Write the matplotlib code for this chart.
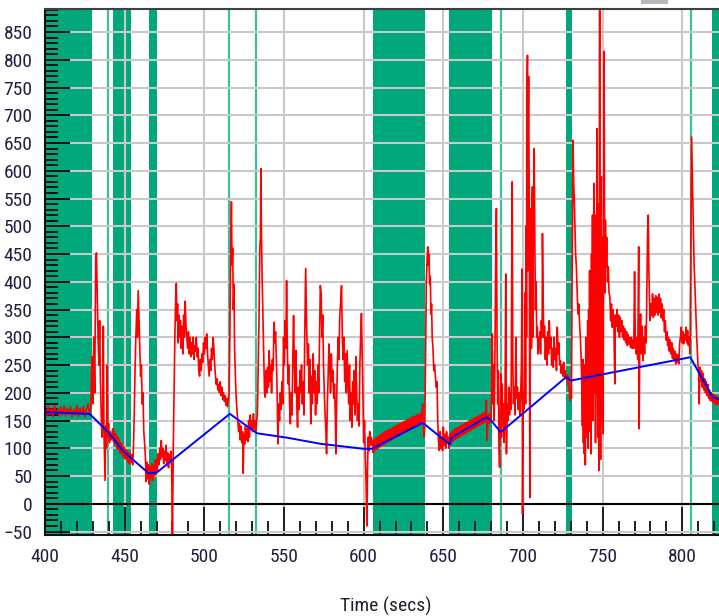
import matplotlib
matplotlib.use('Agg')
import matplotlib.pyplot as plt
from matplotlib.ticker import MultipleLocator
from matplotlib.patches import Rectangle
from matplotlib import font_manager
from matplotlib.font_manager import FontProperties

# ---------------- font choice (narrow sans like the reference) ----------------
def pick_condensed():
    prefs = ['liberation sans narrow', 'arial narrow', 'roboto condensed', 'open sans condensed',
             'noto sans condensed', 'dejavu sans condensed', 'liberation', 'roboto', 'open sans',
             'noto sans', 'lato', 'inter', 'dejavu sans']
    cands = []
    for f in font_manager.fontManager.ttflist:
        nm = f.name.lower()
        fn = f.fname.lower()
        narrow = ('narrow' in nm or 'condensed' in nm or 'narrow' in fn or 'condensed' in fn
                  or str(f.stretch) in ('condensed', 'semi-condensed'))
        if not narrow or 'mono' in nm or 'serif' in nm or 'cjk' in nm:
            continue
        if f.style != 'normal':
            continue
        w = f.weight
        if isinstance(w, str):
            w = {'normal': 400, 'regular': 400, 'book': 400}.get(w, 700)
        if w != 400:
            continue
        if 'bold' in fn or 'light' in fn or 'medium' in fn or 'thin' in fn or 'black' in fn \
                or 'italic' in fn or 'semi' in fn or 'extra' in fn:
            continue
        key = len(prefs)
        for i, p in enumerate(prefs):
            if p in nm or p.replace(' ', '') in fn:
                key = i
                break
        cands.append((key, f.fname))
    if cands:
        cands.sort()
        return FontProperties(fname=cands[0][1]), 14
    return FontProperties(family=['Liberation Sans', 'DejaVu Sans']), 12.5

font_prop, font_size = pick_condensed()

# ---------------- data ----------------
green_spans = [(400, 429.3), (442.5, 454.1), (465.0, 470.5), (605.6, 638.6),
               (653.4, 680.6), (726.8, 730.8), (818.9, 823)]
green_marks = [439.5, 515.4, 532.4, 686.1, 805.7]

blue_time = [400, 428, 440, 449, 455, 465, 470, 516, 533, 552, 573, 600, 605,
             637, 654, 655, 677, 680, 686, 727, 730, 805, 819, 823]
blue_value = [165, 162, 128, 95, 80, 55, 56, 162, 127, 119, 108, 99, 99,
              146, 107, 119, 156, 150, 129, 228, 222, 264, 192, 188]

red_samples = [
    (400, 170), (401, 158), (402, 176), (403, 160), (404, 172), (405, 157), (406, 178), (407, 162),
    (408, 170), (409, 158), (410, 174), (411, 160), (412, 176), (413, 158), (414, 172), (415, 161),
    (416, 175), (417, 157), (418, 170), (419, 160), (420, 177), (421, 158), (422, 172), (423, 162),
    (424, 175), (425, 157), (426, 170), (427, 180), (428, 160),
    (428.8, 175), (429.5, 265), (430, 180), (430.6, 300), (431.2, 200), (431.8, 440), (432.3, 452),
    (432.8, 380), (433.3, 300), (433.8, 250), (434.3, 330), (434.8, 220), (435.3, 160), (435.8, 120),
    (436.2, 150), (436.6, 320), (437.0, 130), (437.7, 42), (438.1, 140), (438.6, 100), (439.0, 250),
    (439.4, 120), (439.9, 145), (440.4, 110), (440.9, 130), (441.4, 115), (442, 125),
    (442.5, 135), (443, 112), (443.5, 130), (444, 108), (444.5, 125), (445, 100), (445.5, 120),
    (446, 98), (446.5, 115), (447, 92), (447.5, 110), (448, 90), (448.5, 105), (449, 85),
    (449.5, 102), (450, 82), (450.5, 98), (451, 80), (451.5, 95), (452, 75), (452.5, 92),
    (453, 72), (453.5, 90), (454, 75), (454.5, 88), (455, 70),
    (455.5, 100), (456, 160), (456.5, 240), (457, 300), (457.6, 350), (458, 300), (458.5, 384),
    (459, 330), (459.5, 280), (460, 230), (460.5, 250), (461, 180), (461.5, 200), (462, 130),
    (462.5, 110), (463, 85),
    (463.5, 40), (464, 75), (464.5, 45), (465, 70), (465.5, 35), (466, 65), (466.5, 48), (467, 72),
    (467.5, 42), (468, 68), (468.5, 50), (469, 78), (469.5, 52), (470, 80), (470.5, 60), (471, 90),
    (471.5, 70), (472, 100), (472.5, 80), (473, 114), (473.5, 85), (474, 100), (474.5, 72),
    (475, 95), (475.5, 78), (476, 105), (476.5, 70), (477, 92), (477.5, 65), (478, 88),
    (478.5, 75), (479, 95), (479.5, 60), (480, -55), (480.5, 100), (481, 200),
    (481.5, 300), (482, 370), (482.4, 397), (482.8, 330), (483.2, 360), (483.6, 290), (484, 340),
    (484.5, 300), (485, 330), (485.5, 280), (486, 320), (486.5, 270), (487, 340), (487.5, 300),
    (488, 365), (488.5, 320), (489, 300), (489.5, 280), (490, 310), (490.5, 270), (491, 300),
    (491.5, 265), (492, 290), (492.5, 270), (493, 300), (493.5, 260), (494, 285), (494.5, 275),
    (495, 300), (495.5, 265), (496, 280), (496.5, 240), (497, 230), (497.5, 260), (498, 240),
    (498.5, 270), (499, 255), (499.5, 290), (500, 270), (500.5, 300), (501, 280), (501.5, 306),
    (502, 270), (502.5, 250), (503, 230), (503.5, 260), (504, 240), (504.5, 280), (505, 260),
    (505.5, 300), (506, 280), (506.5, 250), (507, 230), (507.5, 215), (508, 225), (508.5, 205),
    (509, 215), (509.5, 200), (510, 220), (510.5, 195), (511, 210), (511.5, 188), (512, 200),
    (512.5, 185), (513, 195), (513.5, 178), (514, 190), (514.5, 175), (515, 185),
    (515.5, 200), (516, 300), (516.5, 450), (517, 544), (517.4, 430), (517.8, 460), (518.2, 350),
    (518.6, 396), (519, 280), (519.5, 230), (520, 190), (520.5, 168), (521, 150), (521.5, 130),
    (522, 145), (522.5, 115), (523, 140), (523.5, 110), (524, 130), (524.4, 55), (524.8, 125),
    (525.3, 108), (525.8, 140), (526.3, 115), (526.8, 135), (527.3, 112), (527.8, 150),
    (528.3, 120), (528.8, 160), (529.3, 135), (529.8, 150), (530.3, 130), (530.8, 162),
    (531.3, 135), (531.8, 150), (532.3, 132), (532.8, 150), (533.3, 160), (533.8, 250),
    (534.3, 330), (534.8, 460), (535.2, 480), (535.5, 604), (535.8, 500), (536.2, 420),
    (536.6, 360), (537, 300), (537.4, 250), (537.8, 200), (538.2, 192), (538.7, 240), (539.2, 200),
    (539.7, 246), (540.2, 210), (540.7, 276), (541.2, 220), (541.7, 250), (542.2, 200),
    (542.7, 260), (543.2, 240), (543.7, 327), (544.2, 290), (544.7, 310), (545.2, 260),
    (545.7, 200), (546.2, 108), (546.7, 180), (547.2, 150),
    (547.7, 200), (548.2, 170), (548.7, 220), (549.2, 180), (549.7, 300), (550.2, 250),
    (550.7, 330), (551.2, 280), (551.6, 402), (552, 300), (552.5, 216), (553, 250), (553.5, 180),
    (554, 144), (554.5, 200), (555, 160), (555.5, 260), (556, 339), (556.5, 250), (557, 200),
    (557.5, 276), (558, 180), (558.5, 138), (559, 210), (559.5, 170), (560, 240), (560.5, 200),
    (561, 250), (561.5, 180), (562, 220), (562.5, 160), (563, 300), (563.6, 424), (564.2, 320),
    (564.8, 250), (565.3, 288), (565.8, 200), (566.3, 260), (566.8, 144), (567.3, 230),
    (567.8, 180), (568.3, 270), (568.8, 200), (569.3, 240), (569.8, 160), (570.3, 220),
    (570.8, 180), (571.3, 250), (571.8, 200), (572.3, 300), (572.8, 393), (573.3, 378),
    (573.8, 300), (574.3, 340), (574.8, 250), (575.3, 200), (575.8, 160), (576.3, 130),
    (576.7, 90), (577.2, 180), (577.7, 230), (578.2, 288), (578.7, 250), (579.2, 200),
    (579.7, 270), (580.2, 220), (580.7, 240), (581.2, 190), (581.7, 216), (582.2, 160),
    (582.6, 90), (583, 180), (583.5, 250), (584, 300), (584.5, 260), (585, 340), (585.5, 360),
    (586.1, 393), (586.6, 300), (587.1, 260), (587.6, 300), (588.1, 220), (588.6, 270),
    (589.1, 200), (589.6, 276), (590.1, 230), (590.6, 180), (591.1, 250), (591.6, 150),
    (592.1, 200), (592.6, 138), (593.1, 220), (593.6, 180), (594.1, 240), (594.6, 160),
    (595.1, 265), (595.6, 200), (596.1, 150), (596.6, 180), (597.1, 140), (597.6, 250),
    (598.1, 300), (598.6, 343), (599, 280), (599.5, 200), (600, 110), (600.5, 150), (601, 90),
    (601.5, 40), (602, -40), (602.4, 60), (602.8, 120), (603.3, 95), (603.8, 130), (604.3, 105),
    (604.8, 120),
    (605.5, 110), (606, 92), (606.5, 115), (607, 96), (607.5, 118), (608, 98), (608.5, 120),
    (609, 100), (609.5, 122), (610, 102), (610.5, 124), (611, 104), (611.5, 126), (612, 106),
    (612.5, 128), (613, 107), (613.5, 130), (614, 110), (614.5, 131), (615, 111), (615.5, 133),
    (616, 113), (616.5, 134), (617, 114), (617.5, 136), (618, 116), (618.5, 137), (619, 118),
    (619.5, 139), (620, 120), (620.5, 141), (621, 121), (621.5, 142), (622, 123), (622.5, 144),
    (623, 124), (623.5, 145), (624, 126), (624.5, 147), (625, 127), (625.5, 148), (626, 129),
    (626.5, 150), (627, 130), (627.5, 151), (628, 132), (628.5, 153), (629, 133), (629.5, 154),
    (630, 135), (630.5, 156), (631, 136), (631.5, 157), (632, 138), (632.5, 158), (633, 139),
    (633.5, 160), (634, 140), (634.5, 161), (635, 142), (635.5, 162), (636, 143), (636.5, 160),
    (637, 180), (637.5, 140), (638, 120), (638.4, 150),
    (638.8, 250), (639.3, 400), (639.8, 440), (640.2, 463), (640.6, 430), (641, 450),
    (641.4, 396), (641.8, 410), (642.2, 342), (642.6, 360), (643, 300), (643.5, 280), (644, 240),
    (644.5, 250), (645, 230), (645.5, 210), (646, 220), (646.5, 150), (647, 110), (647.5, 96),
    (648, 130), (648.5, 100), (649, 120), (649.5, 96), (650, 138), (650.5, 105), (651, 125),
    (651.5, 100), (652, 130), (652.5, 110), (653, 120), (653.5, 100),
    (654, 125), (654.5, 108), (655, 128), (655.5, 112), (656, 132), (656.5, 114), (657, 134),
    (657.5, 116), (658, 136), (658.5, 118), (659, 137), (659.5, 120), (660, 139), (660.5, 121),
    (661, 141), (661.5, 123), (662, 142), (662.5, 125), (663, 144), (663.5, 126), (664, 146),
    (664.5, 128), (665, 147), (665.5, 130), (666, 149), (666.5, 131), (667, 150), (667.5, 133),
    (668, 152), (668.5, 135), (669, 154), (669.5, 136), (670, 155), (670.5, 138), (671, 157),
    (671.5, 140), (672, 158), (672.5, 141), (673, 160), (673.5, 143), (674, 161), (674.5, 145),
    (675, 163), (675.5, 146), (676, 164), (676.5, 148), (677, 186), (677.5, 114), (678, 160),
    (678.5, 145), (679, 162), (679.5, 148), (680, 155),
    (680.3, 200), (680.7, 306), (681.1, 180), (681.5, 250), (681.9, 150), (682.3, 240),
    (682.8, 420), (683.3, 532), (683.7, 300), (684.1, 180), (684.5, 240), (684.9, 100),
    (685.3, 66), (685.7, 150), (686.1, 234), (686.5, 120), (686.9, 216), (687.3, 140),
    (687.7, 180), (688.1, 110), (688.6, 150), (689.2, 414), (689.6, 90), (690, 180), (690.5, 150),
    (691, 210), (691.5, 160), (692, 200), (692.5, 170), (693.2, 580), (693.6, 250), (694, 180),
    (694.5, 210), (695, 160), (695.5, 300), (696, 190), (696.5, 210), (697, 170), (697.5, 200),
    (698, 160), (698.5, 190), (699, 250), (699.4, 423), (699.7, -18), (700.1, 200), (700.5, 170),
    (701, 250), (701.3, 380), (701.6, 180), (702, 500), (702.2, 300), (702.4, 724), (702.8, 808),
    (703.0, 420), (703.2, 650), (703.5, 770), (703.9, 550), (704.3, 11), (704.7, 450),
    (705.1, 532), (705.3, 280), (705.5, 500), (705.9, 571), (706.1, 300), (706.3, 450),
    (706.7, 535), (707, 640), (707.4, 480), (707.8, 350), (708.2, 400), (708.6, 300), (709, 318),
    (709.4, 270), (709.8, 300), (710.2, 280), (710.6, 310), (711, 270), (711.5, 330), (712, 300),
    (712.2, 487), (712.6, 378), (713, 300),
    (713.5, 320), (714, 260), (714.5, 300), (715, 250), (715.5, 310), (716, 270), (716.5, 330),
    (717, 280), (717.5, 300), (718, 250), (718.5, 280), (719, 246), (719.5, 300), (720, 260),
    (720.5, 280), (721, 240), (721.5, 318), (722, 270), (722.5, 290), (723, 250), (723.5, 258),
    (724, 235), (724.5, 250), (725, 230), (725.5, 255), (726, 228), (726.5, 240), (727, 225),
    (727.5, 232), (728, 215), (728.5, 230), (729, 205), (729.5, 186), (730, 210), (730.4, 190),
    (730.8, 400), (731.4, 655), (731.8, 580), (732.2, 547), (732.6, 500), (733, 451),
    (733.5, 427), (734, 380), (734.5, 342), (735, 360), (735.5, 324), (736, 300), (736.5, 260),
    (737, 200), (737.3, 140), (737.6, 260), (737.9, 110), (738.2, 230), (738.5, 90), (738.8, 250),
    (739.1, 70), (739.4, 300), (739.7, 120), (740, 280), (740.3, 150), (740.6, 330), (740.9, 100),
    (741.2, 350), (741.5, 200), (741.8, 420), (742.1, 130), (742.4, 400), (742.7, 90), (743, 450),
    (743.3, 180), (743.6, 520), (743.9, 150), (744.2, 480), (744.6, 577), (744.9, 200),
    (745.2, 450), (745.5, 110), (745.8, 520), (746.1, 200), (746.4, 676), (746.7, 250),
    (747, 120), (747.3, 540), (747.6, 60), (747.9, 600), (748.1, 890), (748.4, 300), (748.7, 80),
    (749, 560), (749.2, 589), (749.5, 150), (749.8, 480), (750.1, 200), (750.3, 126), (750.6, 500),
    (750.9, 815), (751.2, 450), (751.5, 380), (751.7, 511), (752.1, 427), (752.5, 480), (753, 400),
    (753.5, 427), (754, 380),
    (754.5, 373), (755, 330), (755.5, 360), (756, 318), (756.5, 350), (757, 330), (757.6, 216),
    (758, 340), (758.5, 320), (759, 350), (759.5, 310), (760, 340), (760.5, 300), (761, 336),
    (761.5, 310), (762, 330), (762.5, 300), (763, 320), (763.5, 295), (764, 315), (764.5, 290),
    (765, 310), (765.5, 285), (766, 305), (766.5, 288), (767, 300), (767.5, 282), (768, 300),
    (768.5, 280), (769, 295), (769.5, 280), (770, 418), (770.5, 290), (771, 270), (771.5, 300),
    (772, 260), (772.6, 463), (772.9, 135), (773.3, 300), (773.8, 342), (774.3, 270),
    (774.8, 320), (775.3, 258), (775.8, 300), (776.3, 270), (776.8, 320), (777.3, 290),
    (777.8, 400), (778.2, 490), (778.6, 520), (779, 420), (779.4, 366), (779.8, 330),
    (780.3, 360), (780.8, 340), (781.3, 378), (781.8, 336), (782.3, 370), (782.8, 340),
    (783.3, 375), (783.8, 345), (784.3, 372), (784.8, 340), (785.3, 378), (785.8, 345),
    (786.3, 370), (786.8, 335), (787.3, 360), (787.8, 330), (788.3, 350), (788.8, 310),
    (789.3, 330), (789.8, 295), (790.3, 310), (790.8, 285), (791.3, 300), (791.8, 275),
    (792.3, 295), (792.8, 270), (793.3, 290), (793.8, 262), (794.3, 280), (794.8, 258),
    (795.3, 275), (795.8, 252), (796.3, 270), (796.8, 255), (797.3, 268), (797.8, 252),
    (798.3, 290), (798.8, 300), (799.3, 318), (799.8, 290), (800.3, 310), (800.8, 288),
    (801.3, 305), (801.8, 295), (802.3, 318), (802.8, 290), (803.3, 312), (803.8, 285),
    (804.3, 300), (804.8, 270),
    (805.3, 450), (805.8, 661), (806.2, 600), (806.6, 547), (807, 480), (807.4, 427), (807.8, 400),
    (808.2, 367), (808.6, 330), (809, 300), (809.4, 276), (809.8, 250), (810.2, 240), (810.6, 180),
    (811, 246), (811.5, 220), (812, 240), (812.5, 210), (813, 235), (813.5, 205), (814, 225),
    (814.5, 200), (815, 220), (815.5, 195), (816, 215), (816.5, 190), (817, 205), (817.5, 186),
    (818, 200), (818.5, 185), (819, 198), (819.5, 182), (820, 196), (820.5, 180), (821, 194),
    (821.5, 178), (822, 192), (822.5, 180), (823, 190),
]
red_time = [t for t, v in red_samples]
red_value = [v for t, v in red_samples]

x_major = 50
x_minor = 10
y_major = 50
y_minor = 10

# ---------------- figure ----------------
W, H = 719, 616
fig = plt.figure(figsize=(W / 100, H / 100), dpi=100)
fig.patch.set_facecolor('white')
left_px, right_px, top_px, bot_px = 45, 719, 9, 535
ax = fig.add_axes([left_px / W, 1 - bot_px / H, (right_px - left_px) / W, (bot_px - top_px) / H])
ax.set_xlim(400, 823)
ax.set_ylim(-56.3, 891.5)

green = '#00a87b'
for a, b in green_spans:
    ax.axvspan(a, b, color=green, lw=0, zorder=0.2)
for m in green_marks:
    ax.axvline(m, color='#3cbf98', lw=1.6, zorder=0.3)

ax.set_axisbelow(True)
ax.grid(True, which='major', color='#c9c9c9', lw=1.5)
ax.axhline(0, color='black', lw=1.5, zorder=1.5)

ax.plot(red_time, red_value, color='#ff0000', lw=1.2, zorder=2)
ax.plot(blue_time, blue_value, color='#0000ff', lw=1.4, zorder=3)

ax.xaxis.set_major_locator(MultipleLocator(x_major))
ax.xaxis.set_minor_locator(MultipleLocator(x_minor))
ax.yaxis.set_major_locator(MultipleLocator(y_major))
ax.yaxis.set_minor_locator(MultipleLocator(y_minor))

lab_col = '#202040'
ax.tick_params(axis='x', which='major', direction='in', length=20, width=1.4, color='#202020',
               labelcolor=lab_col, pad=9)
ax.tick_params(axis='x', which='minor', direction='in', length=10, width=1.4, color='#202020')
ax.tick_params(axis='y', which='major', direction='in', length=18, width=1.4, color='#101010',
               labelcolor=lab_col, pad=9)
ax.tick_params(axis='y', which='minor', direction='in', length=9, width=1.4, color='#101010')

fig.canvas.draw()
for lab in ax.get_xticklabels() + ax.get_yticklabels():
    lab.set_fontproperties(font_prop)
    lab.set_fontsize(font_size)

for s in ['left', 'bottom']:
    ax.spines[s].set_color('#101010')
    ax.spines[s].set_linewidth(1.5)
ax.spines['top'].set_color('#404040')
ax.spines['top'].set_linewidth(1.5)
ax.spines['right'].set_visible(False)

xl = ax.set_xlabel('Time (secs)', color='#202030')
xl.set_fontproperties(font_prop)
xl.set_fontsize(font_size)
ax.xaxis.set_label_coords(0.505, -0.117)

fig.patches.append(Rectangle((641 / W, 1 - 4 / H), 27 / W, 6 / H, transform=fig.transFigure,
                             facecolor='#b6b6be', edgecolor='none'))

fig.savefig('out.png', dpi=100, facecolor='white')
